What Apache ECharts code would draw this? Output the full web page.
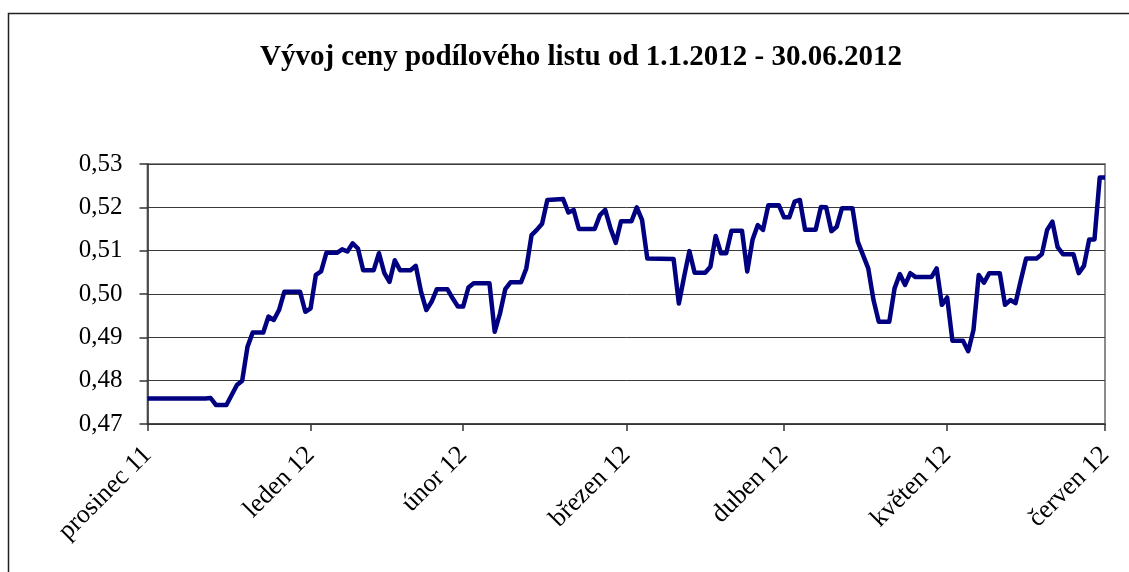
<!DOCTYPE html>
<html>
<head>
<meta charset="utf-8">
<script src="https://cdn.jsdelivr.net/npm/echarts@6/dist/echarts.min.js"></script>
<style>
html, body { margin: 0; padding: 0; background: #fff; }
#chart { width: 1129px; height: 572px; }
</style>
</head>
<body>
<div id="chart"></div>
<script>
// Lomové body čáry (datum, cena podílového listu)
var dates = [
    '2012-01-01', '2012-01-12', '2012-01-13', '2012-01-14', '2012-01-16', '2012-01-18', '2012-01-19', '2012-01-20',
    '2012-01-21', '2012-01-23', '2012-01-24', '2012-01-25', '2012-01-26', '2012-01-27', '2012-01-30', '2012-01-31',
    '2012-02-01', '2012-02-02', '2012-02-03', '2012-02-04', '2012-02-06', '2012-02-07', '2012-02-08', '2012-02-09',
    '2012-02-10', '2012-02-11', '2012-02-13', '2012-02-14', '2012-02-15', '2012-02-16', '2012-02-17', '2012-02-18',
    '2012-02-20', '2012-02-21', '2012-02-22', '2012-02-23', '2012-02-24', '2012-02-25', '2012-02-27', '2012-02-28',
    '2012-02-29', '2012-03-01', '2012-03-02', '2012-03-03', '2012-03-06', '2012-03-07', '2012-03-08', '2012-03-09',
    '2012-03-10', '2012-03-12', '2012-03-13', '2012-03-14', '2012-03-15', '2012-03-16', '2012-03-17', '2012-03-20',
    '2012-03-21', '2012-03-22', '2012-03-23', '2012-03-26', '2012-03-27', '2012-03-28', '2012-03-29', '2012-03-30',
    '2012-03-31', '2012-04-02', '2012-04-03', '2012-04-04', '2012-04-05', '2012-04-10', '2012-04-11', '2012-04-12',
    '2012-04-13', '2012-04-14', '2012-04-16', '2012-04-17', '2012-04-18', '2012-04-19', '2012-04-20', '2012-04-21',
    '2012-04-23', '2012-04-24', '2012-04-25', '2012-04-26', '2012-04-27', '2012-04-28', '2012-04-30', '2012-05-01',
    '2012-05-02', '2012-05-03', '2012-05-04', '2012-05-05', '2012-05-07', '2012-05-08', '2012-05-09', '2012-05-10',
    '2012-05-11', '2012-05-12', '2012-05-14', '2012-05-15', '2012-05-17', '2012-05-18', '2012-05-19', '2012-05-21',
    '2012-05-22', '2012-05-23', '2012-05-24', '2012-05-25', '2012-05-26', '2012-05-29', '2012-05-30', '2012-05-31',
    '2012-06-01', '2012-06-02', '2012-06-04', '2012-06-05', '2012-06-06', '2012-06-07', '2012-06-08', '2012-06-09',
    '2012-06-11', '2012-06-12', '2012-06-13', '2012-06-14', '2012-06-15', '2012-06-16', '2012-06-18', '2012-06-19',
    '2012-06-20', '2012-06-21', '2012-06-22', '2012-06-23', '2012-06-25', '2012-06-26', '2012-06-27', '2012-06-28',
    '2012-06-29', '2012-06-30', '2012-07-01'
];
var prices = [
    0.4759, 0.4759, 0.4760, 0.4744, 0.4744, 0.4790, 0.4800, 0.4878,
    0.4911, 0.4911, 0.4948, 0.4940, 0.4963, 0.5005, 0.5005, 0.4959,
    0.4967, 0.5044, 0.5052, 0.5095, 0.5095, 0.5103, 0.5098, 0.5117,
    0.5105, 0.5055, 0.5055, 0.5094, 0.5049, 0.5028, 0.5078, 0.5055,
    0.5055, 0.5065, 0.5005, 0.4963, 0.4982, 0.5011, 0.5011, 0.4990,
    0.4971, 0.4971, 0.5015, 0.5025, 0.5025, 0.4913, 0.4955, 0.5011,
    0.5027, 0.5027, 0.5059, 0.5136, 0.5148, 0.5162, 0.5217, 0.5219,
    0.5188, 0.5194, 0.5150, 0.5150, 0.5182, 0.5194, 0.5152, 0.5118,
    0.5168, 0.5168, 0.5200, 0.5171, 0.5082, 0.5081, 0.4978, 0.5040,
    0.5099, 0.5049, 0.5049, 0.5063, 0.5134, 0.5094, 0.5094, 0.5146,
    0.5146, 0.5052, 0.5125, 0.5159, 0.5148, 0.5205, 0.5205, 0.5177,
    0.5177, 0.5213, 0.5217, 0.5148, 0.5148, 0.5201, 0.5200, 0.5145,
    0.5155, 0.5198, 0.5198, 0.5121, 0.5059, 0.4986, 0.4936, 0.4936,
    0.5013, 0.5046, 0.5021, 0.5048, 0.5039, 0.5039, 0.5059, 0.4975,
    0.4992, 0.4892, 0.4892, 0.4868, 0.4917, 0.5044, 0.5026, 0.5048,
    0.5048, 0.4975, 0.4986, 0.4979, 0.5032, 0.5082, 0.5082, 0.5092,
    0.5148, 0.5167, 0.5108, 0.5092, 0.5092, 0.5048, 0.5065, 0.5126,
    0.5126, 0.5269, 0.5269
];

// Popisky osy X (tak jak jsou v originále) a jejich pozice
var monthTicks = ['2012-01-01', '2012-02-01', '2012-03-01', '2012-04-01', '2012-05-01', '2012-06-01', '2012-07-01'];
var monthLabels = ['prosinec 11', 'leden 12', 'únor 12', 'březen 12', 'duben 12', 'květen 12', 'červen 12'];

var yMin = 0.47, yMax = 0.53, yStep = 0.01;

// den od začátku období (osa X je v dnech)
var DAY = 86400000;
function dayIndex(d) {
    return Math.round((Date.UTC(+d.slice(0, 4), +d.slice(5, 7) - 1, +d.slice(8, 10)) - Date.UTC(2012, 0, 1)) / DAY);
}
var tickDays = monthTicks.map(dayIndex);

var seriesData = dates.map(function (d, i) {
    return [dayIndex(d), prices[i]];
});

var option = {
    backgroundColor: '#fff',
    animation: false,
    title: {
        text: 'Vývoj ceny podílového listu od 1.1.2012 - 30.06.2012',
        left: 576,
        top: 38,
        textAlign: 'center',
        textStyle: {
            fontFamily: 'Liberation Serif',
            fontSize: 29,
            fontWeight: 'bold',
            color: '#000'
        }
    },
    graphic: [{
        type: 'rect',
        shape: { x: 8.5, y: 13.5, width: 1200, height: 700 },
        style: { fill: 'none', stroke: '#222', lineWidth: 1.5 },
        silent: true
    }],
    grid: {
        left: 147.5,
        right: 24,
        top: 164,
        bottom: 148,
        show: true,
        borderColor: '#8c8c8c',
        borderWidth: 2
    },
    xAxis: {
        type: 'value',
        min: tickDays[0],
        max: tickDays[tickDays.length - 1],
        axisLine: { lineStyle: { color: '#333', width: 1.5 } },
        axisTick: {
            show: true,
            customValues: tickDays,
            length: 7,
            lineStyle: { color: '#333', width: 1.5 }
        },
        axisLabel: {
            customValues: tickDays,
            rotate: 45,
            margin: 27,
            fontFamily: 'Liberation Serif',
            fontSize: 26,
            color: '#000',
            showMinLabel: true,
            showMaxLabel: true,
            formatter: function (val) {
                var i = tickDays.indexOf(Math.round(val));
                return i >= 0 ? monthLabels[i] : '';
            }
        },
        splitLine: { show: false }
    },
    yAxis: {
        type: 'value',
        min: yMin,
        max: yMax,
        interval: yStep,
        axisLine: { show: true, lineStyle: { color: '#333', width: 1.5 } },
        axisTick: { show: true, length: 8, lineStyle: { color: '#333', width: 1.5 } },
        axisLabel: {
            margin: 25,
            fontFamily: 'Liberation Serif',
            fontSize: 25,
            color: '#000',
            formatter: function (v) {
                return v.toFixed(2).replace('.', ',');
            }
        },
        splitLine: { show: true, lineStyle: { color: '#3a3a3a', width: 1 } }
    },
    series: [{
        type: 'line',
        data: seriesData,
        symbol: 'none',
        lineStyle: { color: '#000080', width: 4.5, join: 'round' },
        clip: false
    }]
};

var chart = echarts.init(document.getElementById('chart'));
chart.setOption(option);
</script>
</body>
</html>
